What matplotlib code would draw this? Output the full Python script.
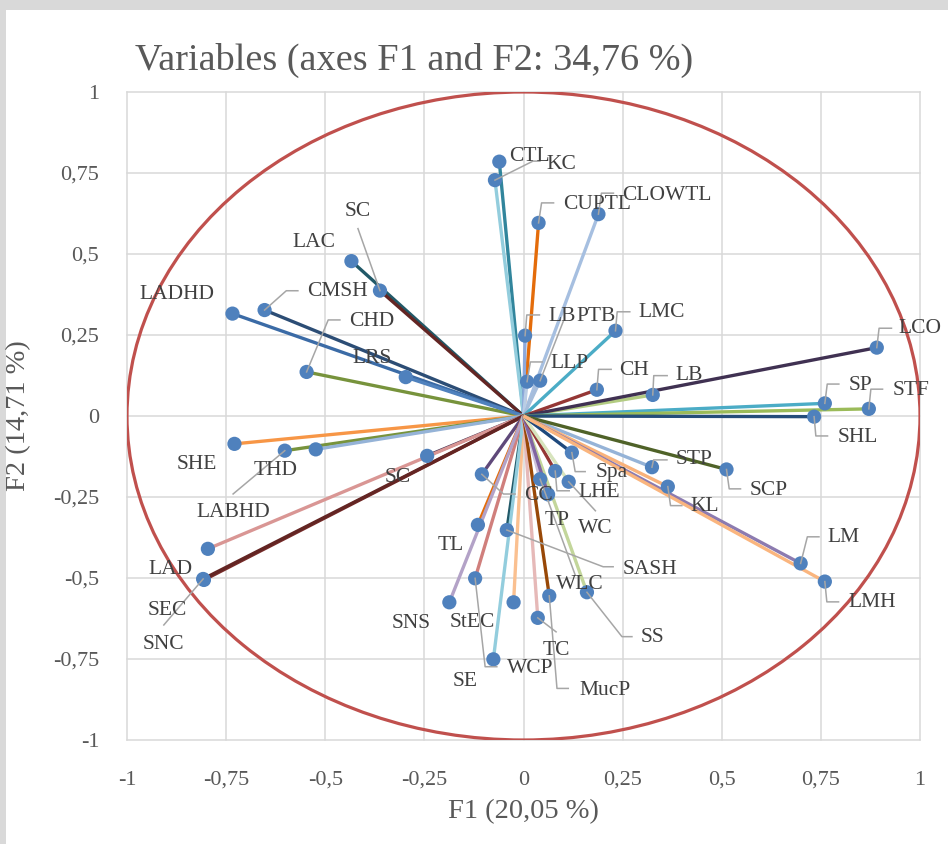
import matplotlib
matplotlib.use("Agg")
import matplotlib.pyplot as plt
from matplotlib.patches import Rectangle, Ellipse

plt.rcParams["font.family"] = ["Liberation Serif", "DejaVu Serif"]

# correlation of each variable with the first two factors
NAMES = ["CTL", "KC", "CUPTL", "CLOWTL", "LAC", "SC", "CMSH", "LADHD", "CHD", "LRS",
         "LB", "LLP", "PTB", "LMC", "CH", "LB", "LCO", "SP", "STF", "SHL",
         "SHE", "LABHD", "THD", "SC", "LAD", "SEC", "SNC", "CC", "TL", "SASH",
         "WCP", "SNS", "StEC", "SE", "TC", "MucP", "SS", "WLC", "TP", "LHE",
         "WC", "Spa", "STP", "SCP", "KL", "LM", "LMH"]
F1 = [-0.061, -0.072, 0.038, 0.189, -0.434, -0.362, -0.653, -0.734, -0.547, -0.297,
      0.004, 0.009, 0.042, 0.232, 0.185, 0.326, 0.891, 0.760, 0.871, 0.733,
      -0.729, -0.602, -0.524, -0.243, -0.796, -0.806, -0.808, -0.105, -0.115, -0.042,
      -0.122, -0.187, -0.025, -0.076, 0.036, 0.065, 0.160, 0.042, 0.062, 0.080,
      0.114, 0.122, 0.324, 0.512, 0.364, 0.699, 0.760]
F2 = [0.785, 0.728, 0.596, 0.623, 0.478, 0.387, 0.327, 0.316, 0.136, 0.120,
      0.248, 0.106, 0.109, 0.263, 0.081, 0.065, 0.211, 0.039, 0.022, -0.002,
      -0.086, -0.107, -0.103, -0.123, -0.410, -0.506, -0.503, -0.180, -0.336, -0.352,
      -0.501, -0.575, -0.575, -0.751, -0.623, -0.555, -0.544, -0.195, -0.242, -0.170,
      -0.203, -0.113, -0.158, -0.165, -0.218, -0.455, -0.511]
F1_PCT, F2_PCT = "20,05", "14,71"
TOTAL_PCT = "34,76"

LINE_COLORS = ["#31859C", "#93CDDD", "#E46C0A", "#A6BFE0", "#215968", "#632523",
               "#2C4D75", "#3B6BA6", "#77933C", "#4F81BD",
               "#8EA9DB", "#B9CDE5", "#A6BDDB", "#4BACC6", "#953735", "#B3CC82",
               "#403152", "#4BACC6", "#9BBB59", "#254D7A",
               "#F79646", "#77933C", "#95B3D7", "#403152", "#D99694", "#772C2A",
               "#632523", "#5F497A", "#E46C0A", "#215968",
               "#D07F7C", "#B3A2C7", "#FAC090", "#93CDDD", "#E6B9B8", "#984807",
               "#C3D69B", "#CCC1DA", "#8064A2", "#953735",
               "#D7E4BD", "#1F497D", "#95B3D7", "#4F6228", "#F9B27A", "#8C7BB0",
               "#FAB57E"]

# label placement, in pixels relative to the point (x right, y up):
# (dx, dy, horizontal alignment, leader-line waypoints)
LABEL_LAYOUT = [
    (30, 5, "center", None),
    (66, 16, "center", [(28, 14), (38, 19), (45, 19)]),
    (59, 18, "center", [(3, 20), (15, 20)]),
    (68, 19, "center", [(3, 21), (15, 21)]),
    (-37, 19, "center", None),
    (-22.5, 79, "center", [(-22, 62)]),
    (73, 18.5, "center", [(21.7, 19.3), (33.3, 19.3)]),
    (-55.4, 18.7, "center", None),
    (65, 50.3, "center", [(21.6, 52), (33.3, 52)]),
    (-34, 18.7, "center", None),
    (23.3, 19, "left", [(1.7, 20.7), (14.3, 20.7)]),
    (42.5, 18.4, "center", [(3.3, 19.7), (15, 19.7)]),
    (36, 64, "left", [(23, 59)]),
    (45.8, 18.2, "center", [(1.7, 19), (14.3, 19)]),
    (37.5, 18.9, "center", [(1.7, 20.4), (14.3, 20.4)]),
    (36, 19.2, "center", [(1, 19.3), (14.4, 19.3)]),
    (43, 18.7, "center", [(2.3, 19.4), (14.7, 19.4)]),
    (35.5, 17.5, "center", [(2.4, 19.3), (14, 19.3)]),
    (42.3, 18.2, "center", [(2, 19.7), (13.7, 19.7)]),
    (43.4, -20.8, "center", [(1.7, -19.3), (13.4, -19.3)]),
    (-38, -21, "center", None),
    (-51.7, -62.1, "center", [(-51.7, -43.3)]),
    (-40.2, -20.7, "center", None),
    (-29.8, -21.8, "center", None),
    (-37.8, -20.2, "center", None),
    (-36.8, -30.8, "center", None),
    (-39.3, -65.8, "center", [(-39.3, -46)]),
    (56.6, -21.5, "center", [(21.6, -19.7), (33.3, -19.7)]),
    (-26.9, -20.8, "center", None),
    (143.3, -39, "center", [(96.3, -36.7), (106.3, -36.7)]),
    (55, -89.7, "center", [(10, -88.4), (21.7, -88.4)]),
    (-38.5, -21, "center", None),
    (-41.6, -20.2, "center", None),
    (-28.3, -22.4, "center", None),
    (19, -33.1, "center", [(18.3, -14)]),
    (56, -94.3, "center", [(7.7, -92.6), (19, -92.6)]),
    (65.8, -45.2, "center", [(35, -44.4), (45, -44.4)]),
    (40, -104.9, "center", [(35, -95.7)]),
    (9, -26.5, "center", None),
    (44.2, -21.5, "center", [(1.7, -19.7), (14, -19.7)]),
    (26.7, -46.6, "center", [(26.7, -29)]),
    (40, -20.3, "center", [(3.3, -19), (13.3, -19)]),
    (42.5, 8.1, "center", [(1.6, 7.3), (15, 7.3)]),
    (42.3, -20.7, "center", [(2.7, -19.4), (14, -19.4)]),
    (36.9, -20, "center", [(2.7, -19), (14, -19)]),
    (43.3, 25.8, "center", [(6.7, 26.6), (18.3, 26.6)]),
    (47.4, -20.8, "center", [(2, -20.3), (13.7, -20.3)]),
]

W, H = 948, 844
fig = plt.figure(figsize=(W / 100, H / 100), dpi=100, facecolor="#D9D9D9")
fig.patches.append(Rectangle((6 / W, 0), 1, 1 - 10 / H, transform=fig.transFigure,
                             facecolor="white", edgecolor="none", zorder=-1))

ax = fig.add_axes([127 / W, 1 - 740 / H, 793 / W, 648 / H])
ax.set_facecolor("none")
ax.set_xlim(-1, 1)
ax.set_ylim(-1, 1)
ticks = [-1, -0.75, -0.5, -0.25, 0, 0.25, 0.5, 0.75, 1]
ticklabels = [f"{t:g}".replace(".", ",") for t in ticks]
ax.set_xticks(ticks, ticklabels)
ax.set_yticks(ticks, ticklabels)
ax.tick_params(length=0, labelsize=16, labelcolor="#595959")
ax.tick_params(axis="x", pad=22)
ax.tick_params(axis="y", pad=20)
ax.grid(color="#D9D9D9", lw=1.1)
for gl in ax.get_xgridlines() + ax.get_ygridlines():
    gl.set_clip_on(False)
for s in ax.spines.values():
    s.set_visible(False)
ax.set_axisbelow(True)

ax.add_patch(Ellipse((0, 0), 2, 2, fill=False, ec="#C0504D", lw=2.3, zorder=1.5))

# pixel offsets -> data units
sx = 2 / 793
sy = 2 / 648

for name, x, y, c, (dx, dy, ha, leader) in zip(NAMES, F1, F2, LINE_COLORS, LABEL_LAYOUT):
    ax.plot([0, x], [0, y], color=c, lw=2.4, solid_capstyle="butt", zorder=2)
    if leader:
        pts = [(0, 0)] + leader
        ax.plot([x + px * sx for px, _ in pts], [y + py * sy for _, py in pts],
                color="#A6A6A6", lw=1.1, zorder=5, clip_on=False)
    ax.text(x + dx * sx, y + dy * sy, name, ha=ha, va="center", fontsize=15.5,
            color="#404040", zorder=6)

ax.scatter(F1, F2, s=105, color="#4F81BD", edgecolors="none", zorder=4)

fig.text(135 / W, 1 - 60 / H, f"Variables (axes F1 and F2: {TOTAL_PCT} %)",
         ha="left", va="center", fontsize=27.5, color="#595959")
fig.text(523 / W, 1 - 812 / H, f"F1 ({F1_PCT} %)", ha="center", va="center",
         fontsize=20.5, color="#595959")
fig.text(19 / W, 1 - 416 / H, f"F2 ({F2_PCT} %)", ha="center", va="center",
         rotation=90, fontsize=20.5, color="#595959")

fig.savefig("out.png", dpi=100, facecolor=fig.get_facecolor())
